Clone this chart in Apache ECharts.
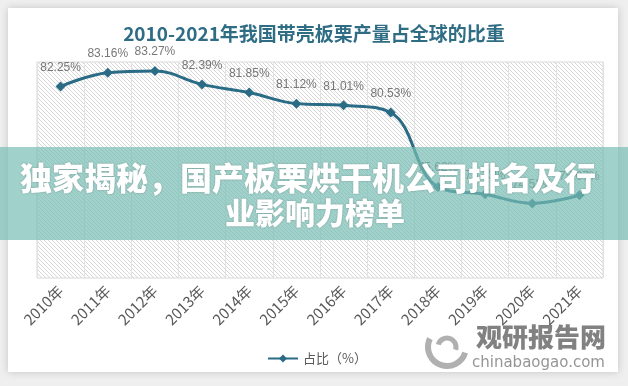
<!DOCTYPE html>
<html>
<head>
<meta charset="utf-8">
<script src="https://cdn.jsdelivr.net/npm/echarts@6/dist/echarts.min.js"></script>
<style>
html,body{margin:0;padding:0;background:#efefef;}
#c{width:628px;height:386px;}
</style>
</head>
<body>
<div id="c"></div>
<script>
var titleText = '2010-2021年我国带壳板栗产量占全球的比重';
var categories = ['2010年','2011年','2012年','2013年','2014年','2015年','2016年','2017年','2018年','2019年','2020年','2021年'];
var shareValues = [82.25, 83.16, 83.27, 82.39, 81.85, 81.12, 81.01, 80.53, 75.62, 75.13, 74.53, 75.07];
var seriesName = '占比（%）';
var bannerLines = ['独家揭秘，国产板栗烘干机公司排名及行', '业影响力榜单'];
var watermarkCn = '观研报告网';
var watermarkEn = 'chinabaogao.com';

var pc = document.createElement('canvas');
pc.width = 4; pc.height = 4;
var pctx = pc.getContext('2d');
pctx.fillStyle = '#ffffff';
pctx.fillRect(0,0,4,4);
pctx.fillStyle = '#d6d6d6';
for (var i = 0; i < 4; i++) { pctx.fillRect(i, i, 1, 1); }

var chart = echarts.init(document.getElementById('c'));
chart.setOption({
  backgroundColor: '#efefef',
  animation: false,
  title: {
    text: titleText,
    left: 'center',
    top: 19,
    textStyle: {fontSize: 19, fontWeight: 'bold', color: '#2f6d85', fontFamily: 'Noto Sans CJK SC'}
  },
  grid: {
    left: 37, right: 25, top: 62, bottom: 108,
    show: true,
    backgroundColor: {image: pc, repeat: 'repeat'},
    borderColor: '#d9d9d9', borderWidth: 1
  },
  xAxis: {
    type: 'category',
    data: categories,
    boundaryGap: true,
    axisLine: {show: false},
    axisTick: {show: false},
    splitLine: {show: true, interval: 0, lineStyle: {color: '#e2e2e2', width: 1}},
    axisLabel: {rotate: 45, interval: 0, fontSize: 15, color: '#595959', margin: 10, fontFamily: 'Noto Sans CJK SC'}
  },
  yAxis: {
    type: 'value',
    min: 69.6, max: 83.87,
    show: false,
    splitLine: {show: false}
  },
  legend: {
    data: [seriesName],
    left: 262,
    top: 347,
    itemWidth: 30,
    itemHeight: 10,
    textStyle: {fontSize: 13, color: '#595959', fontFamily: 'Noto Sans CJK SC'}
  },
  series: [{
    name: seriesName,
    type: 'line',
    data: shareValues,
    smooth: 0.4,
    symbol: 'diamond',
    symbolSize: 10,
    itemStyle: {color: '#2a6b86'},
    lineStyle: {width: 3, color: '#2a6b86'},
    label: {
      show: true, position: 'top', distance: 8,
      fontSize: 12, color: '#777777', fontFamily: 'Liberation Sans',
      formatter: function (p) { return p.value.toFixed(2) + '%'; }
    },
    z: 3
  }],
  graphic: [
    {type: 'rect', z: -1, shape: {x: 8, y: 8, width: 610, height: 364},
     style: {fill: '#ffffff', shadowBlur: 8, shadowColor: 'rgba(0,0,0,0.18)'}},
    {type: 'arc', z: 5, shape: {cx: 447, cy: 347, r: 19, startAngle: 0.3, endAngle: 3.6},
     style: {stroke: 'rgba(150,150,150,0.75)', lineWidth: 6, fill: null}},
    {type: 'arc', z: 5, shape: {cx: 447, cy: 347, r: 9, startAngle: 3.4, endAngle: 6.6},
     style: {stroke: 'rgba(150,150,150,0.75)', lineWidth: 5, fill: null}},
    {type: 'text', z: 5, x: 476, y: 337,
     style: {text: watermarkCn, fontSize: 26, fontWeight: 900, fill: 'rgba(115,115,115,0.9)',
             fontFamily: 'Noto Sans CJK SC', verticalAlign: 'middle', align: 'left'}},
    {type: 'text', z: 5, x: 472, y: 363,
     style: {text: watermarkEn, fontSize: 15, fill: 'rgba(130,130,130,0.85)',
             fontFamily: 'DejaVu Sans', verticalAlign: 'middle', align: 'left'}},
    {type: 'rect', z: 100, shape: {x: 0, y: 147, width: 628, height: 93},
     style: {fill: 'rgba(120,190,180,0.7)'}},
    {type: 'text', z: 101, x: 308, y: 178,
     style: {text: bannerLines[0], fontSize: 32, fontWeight: 900, fill: '#ffffff',
             fontFamily: 'Noto Sans CJK SC', align: 'center', verticalAlign: 'middle',
             textShadowColor: 'rgba(0,0,0,0.25)', textShadowBlur: 2}},
    {type: 'text', z: 101, x: 315, y: 213,
     style: {text: bannerLines[1], fontSize: 30, fontWeight: 900, fill: '#ffffff',
             fontFamily: 'Noto Sans CJK SC', align: 'center', verticalAlign: 'middle',
             textShadowColor: 'rgba(0,0,0,0.25)', textShadowBlur: 2}}
  ]
});
</script>
</body>
</html>
